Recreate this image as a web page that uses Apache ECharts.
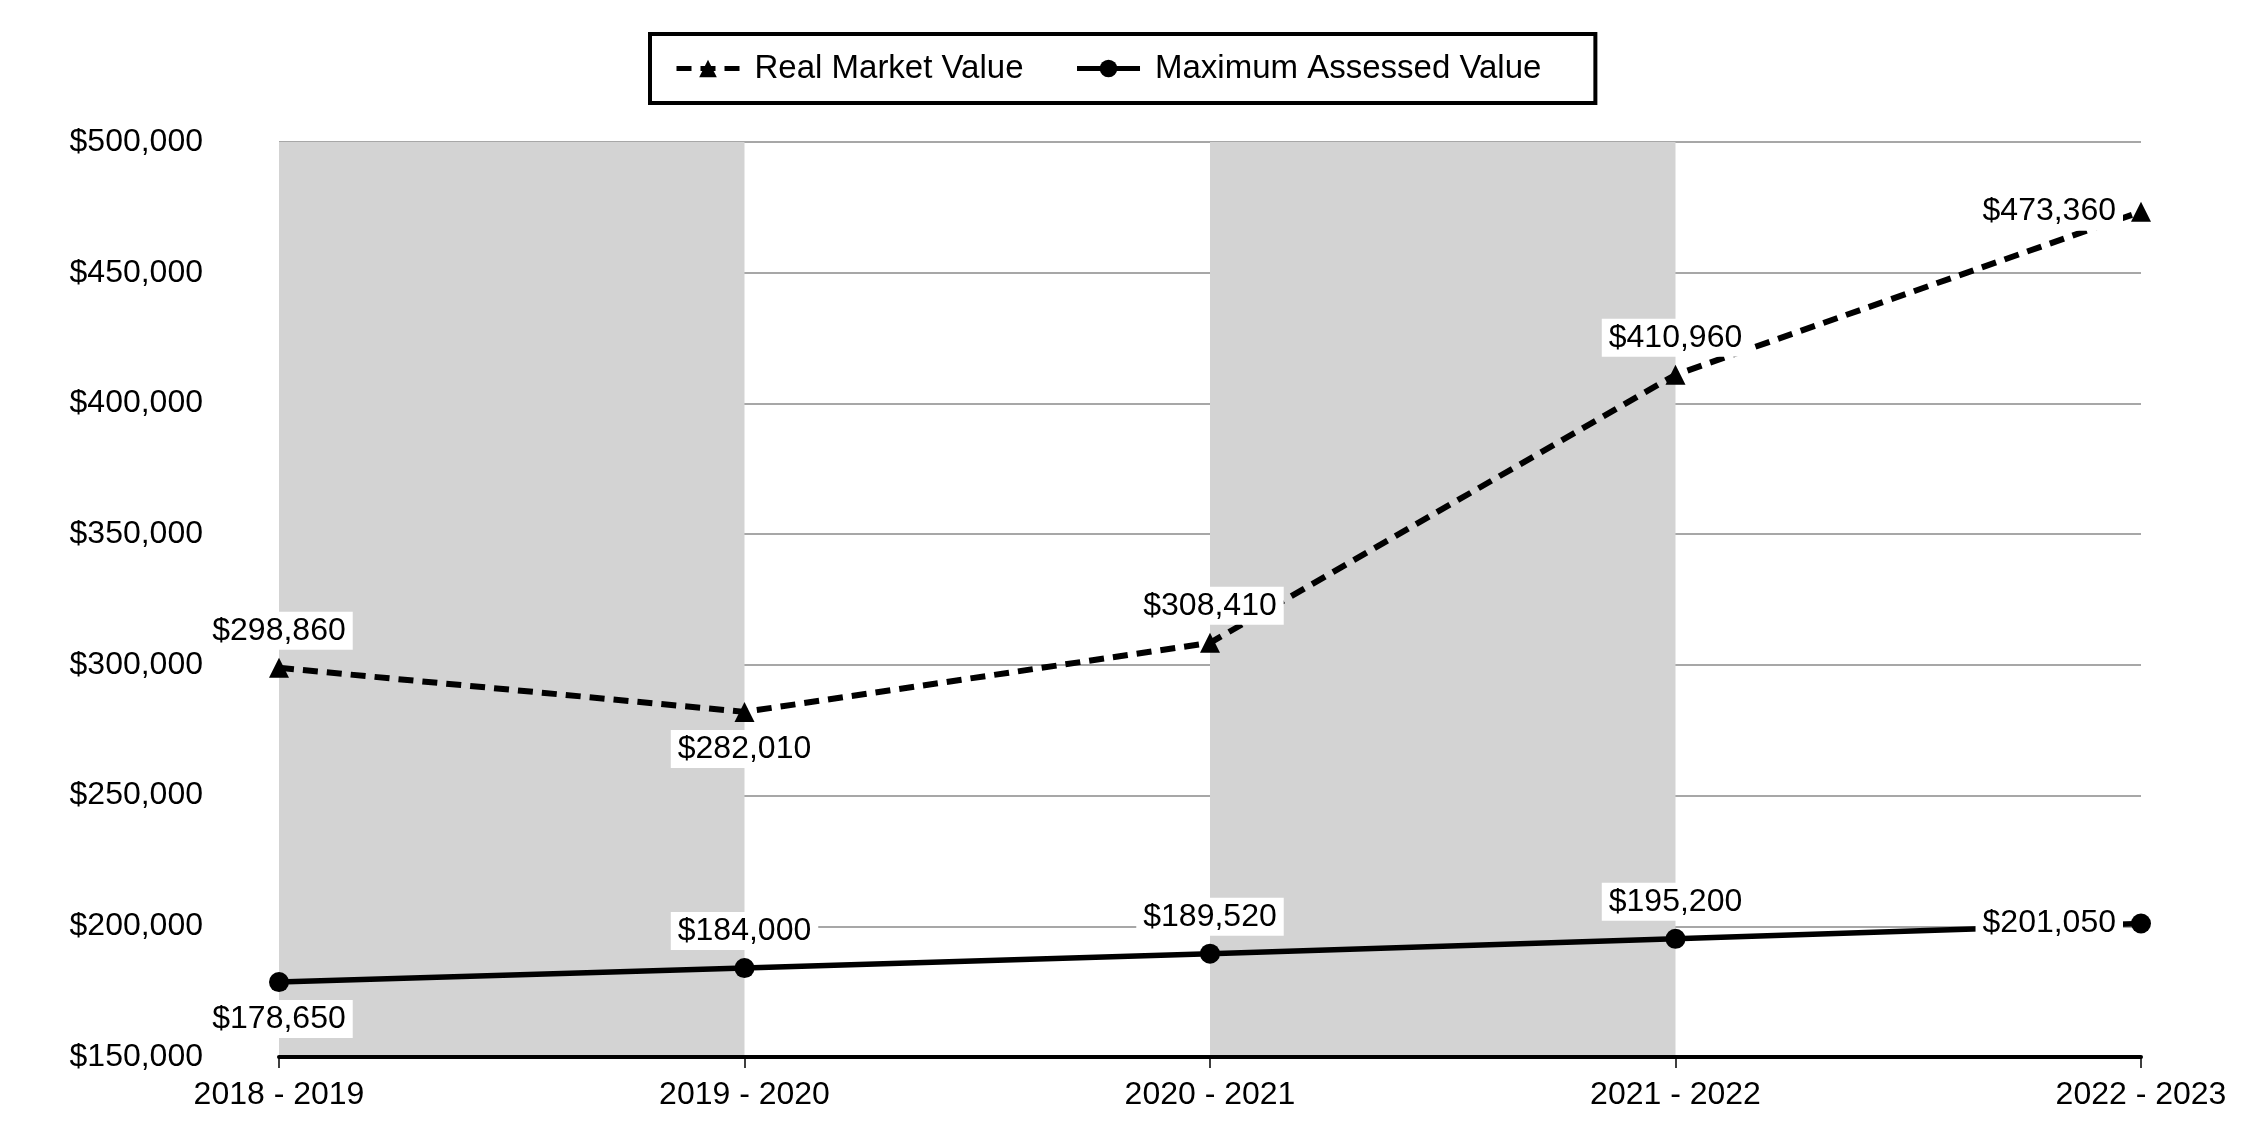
<!DOCTYPE html>
<html>
<head>
<meta charset="utf-8">
<script src="https://cdn.jsdelivr.net/npm/echarts@6/dist/echarts.min.js"></script>
<style>
html,body{margin:0;padding:0;background:#fff;}
#chart{width:2250px;height:1140px;}
</style>
</head>
<body>
<div id="chart"></div>
<script>
// ---- data ----
const categories = ['2018 - 2019', '2019 - 2020', '2020 - 2021', '2021 - 2022', '2022 - 2023'];
const realMarketValue = [298860, 282010, 308410, 410960, 473360];
const maxAssessedValue = [178650, 184000, 189520, 195200, 201050];
const seriesNames = ['Real Market Value', 'Maximum Assessed Value'];
const yMin = 150000, yMax = 500000, yStep = 50000;

// ---- presentation ----
const FONT = '"Liberation Sans", Arial, sans-serif';
function money(v) {
  return '$' + String(Math.round(v)).replace(/\B(?=(\d{3})+(?!\d))/g, ',');
}
const rmvPos = ['top', 'bottom', 'top', 'top', 'left'];
const mavPos = ['bottom', 'top', 'top', 'top', 'left'];

const labelBase = {
  show: true,
  fontSize: 32,
  fontFamily: FONT,
  color: '#000',
  backgroundColor: '#fff',
  padding: [3, 7, 3, 7],
  distance: 8,
  formatter: p => money(p.value)
};

const chart = echarts.init(document.getElementById('chart'), null, {renderer: 'canvas'});
chart.setOption({
  backgroundColor: '#fff',
  animation: false,
  textStyle: {fontFamily: FONT},
  legend: {
    data: seriesNames,
    left: 650,
    top: 34,
    padding: [18, 54, 18, 24],
    borderColor: '#000',
    borderWidth: 4,
    itemWidth: 63,
    itemHeight: 22,
    itemGap: 51,
    lineStyle: {width: 5},
    textStyle: {fontSize: 33, fontFamily: FONT, color: '#000', padding: [0, 0, 0, 10]}
  },
  grid: {left: 279, right: 109, top: 142, bottom: 83, containLabel: false},
  xAxis: {
    type: 'category',
    data: categories,
    boundaryGap: false,
    axisLine: {show: true, lineStyle: {color: '#000', width: 4}},
    axisTick: {show: true, length: 11, lineStyle: {color: '#000', width: 1.5}},
    axisLabel: {fontSize: 32, fontFamily: FONT, color: '#000', margin: 22},
    splitLine: {show: false},
    splitArea: {show: true, areaStyle: {color: ['#d3d3d3', 'rgba(255,255,255,0)']}}
  },
  yAxis: {
    type: 'value',
    min: yMin,
    max: yMax,
    interval: yStep,
    axisLine: {show: false},
    axisTick: {show: false},
    axisLabel: {fontSize: 32, fontFamily: FONT, color: '#000', margin: 76, formatter: v => money(v)},
    splitLine: {show: true, lineStyle: {color: '#8a8a8a', width: 1.5}}
  },
  series: [
    {
      name: seriesNames[0],
      type: 'line',
      data: realMarketValue.map((v, i) => ({value: v, label: {position: rmvPos[i]}})),
      symbol: 'triangle',
      symbolSize: 20,
      itemStyle: {color: '#000'},
      lineStyle: {color: '#000', width: 6, type: [15, 9]},
      label: labelBase,
      z: 3
    },
    {
      name: seriesNames[1],
      type: 'line',
      data: maxAssessedValue.map((v, i) => ({value: v, label: {position: mavPos[i]}})),
      symbol: 'circle',
      symbolSize: 20,
      itemStyle: {color: '#000'},
      lineStyle: {color: '#000', width: 5.5},
      label: labelBase,
      z: 3
    }
  ]
});
</script>
</body>
</html>
